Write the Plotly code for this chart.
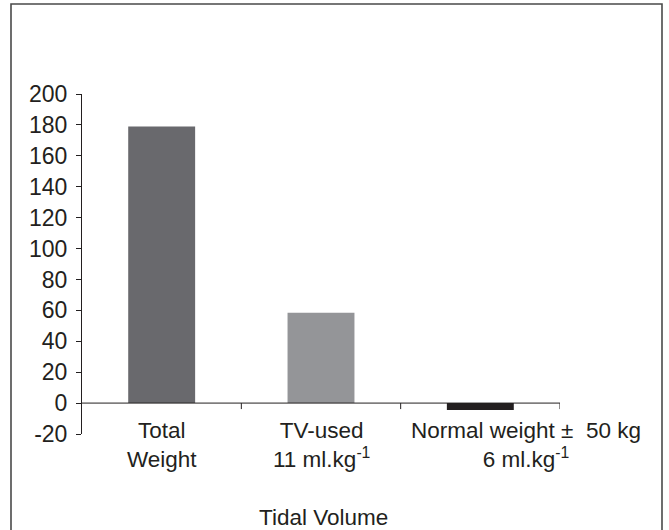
import plotly.graph_objects as go

# Tidal volume comparison
categories = ["Total Weight", "TV-used", "Normal weight"]
values = [179, 58.5, -4.5]
bar_colors = ["#69696d", "#949598", "#231f20"]
tick_labels = [
    "Total<br>Weight",
    "TV-used<br>11 ml.kg<sup>-1</sup>",
    "Normal weight \u00b1  50 kg<br>6 ml.kg<sup>-1</sup>",
]
label_shift = [0, 0, 46]
y_ticks = list(range(-20, 201, 20))
y_tick_text = [str(v) for v in y_ticks]  # plain hyphen for negatives

W, H = 669, 530
L, R, T, B = 82, 109, 94, 96
pw, ph = W - L - R, H - T - B

FONT = "Liberation Sans, Arial, sans-serif"
INK = "#231f20"

fig = go.Figure(
    go.Bar(
        x=categories,
        y=values,
        marker=dict(color=bar_colors, line=dict(width=0)),
        width=0.42,
    )
)

# baseline at zero with category separator ticks
shapes = [
    dict(type="line", xref="paper", yref="y", x0=0, x1=1, y0=0, y1=0,
         line=dict(color=INK, width=1)),
]
for i in range(len(categories)):
    shapes.append(
        dict(type="line", xref="x", yref="y", x0=i + 0.5, x1=i + 0.5,
             ysizemode="pixel", yanchor=0, y0=0, y1=-6,
             line=dict(color=INK, width=1))
    )

# outer frame around the figure
def px_x(p):
    return (p - L) / pw

def px_y(p):
    return (H - B - p) / ph

shapes.append(
    dict(type="rect", xref="paper", yref="paper",
         x0=px_x(11), x1=px_x(662), y0=px_y(535), y1=px_y(4),
         line=dict(color="#4a4a4a", width=1.6), fillcolor="rgba(0,0,0,0)",
         layer="above")
)

annotations = []
for cat, txt, dx in zip(categories, tick_labels, label_shift):
    annotations.append(
        dict(x=cat, y=0, xref="x", yref="y", text=txt, showarrow=False,
             xanchor="center", yanchor="top", yshift=-13, xshift=dx,
             align="center", font=dict(family=FONT, size=22.5, color=INK))
    )
annotations.append(
    dict(x=px_x(323), y=px_y(531), xref="paper", yref="paper",
         text="Tidal Volume", showarrow=False, xanchor="center", yanchor="bottom",
         borderpad=0, font=dict(family=FONT, size=22.5, color=INK))
)

fig.update_layout(
    width=W, height=H,
    margin=dict(l=L, r=R, t=T, b=B, pad=0),
    paper_bgcolor="white", plot_bgcolor="white",
    showlegend=False,
    shapes=shapes,
    annotations=annotations,
    font=dict(family=FONT, size=23, color=INK),
    xaxis=dict(range=[-0.5, 2.5], showticklabels=False, showline=False,
               showgrid=False, zeroline=False, ticks=""),
    yaxis=dict(range=[-20, 200], tickvals=y_ticks, ticktext=y_tick_text,
               showline=True, linecolor=INK, linewidth=1, ticks="outside",
               ticklen=5, tickcolor=INK, showgrid=False, zeroline=False,
               tickfont=dict(family=FONT, size=23, color=INK),
               ticklabelstandoff=4),
)

fig.write_html("out.html")
